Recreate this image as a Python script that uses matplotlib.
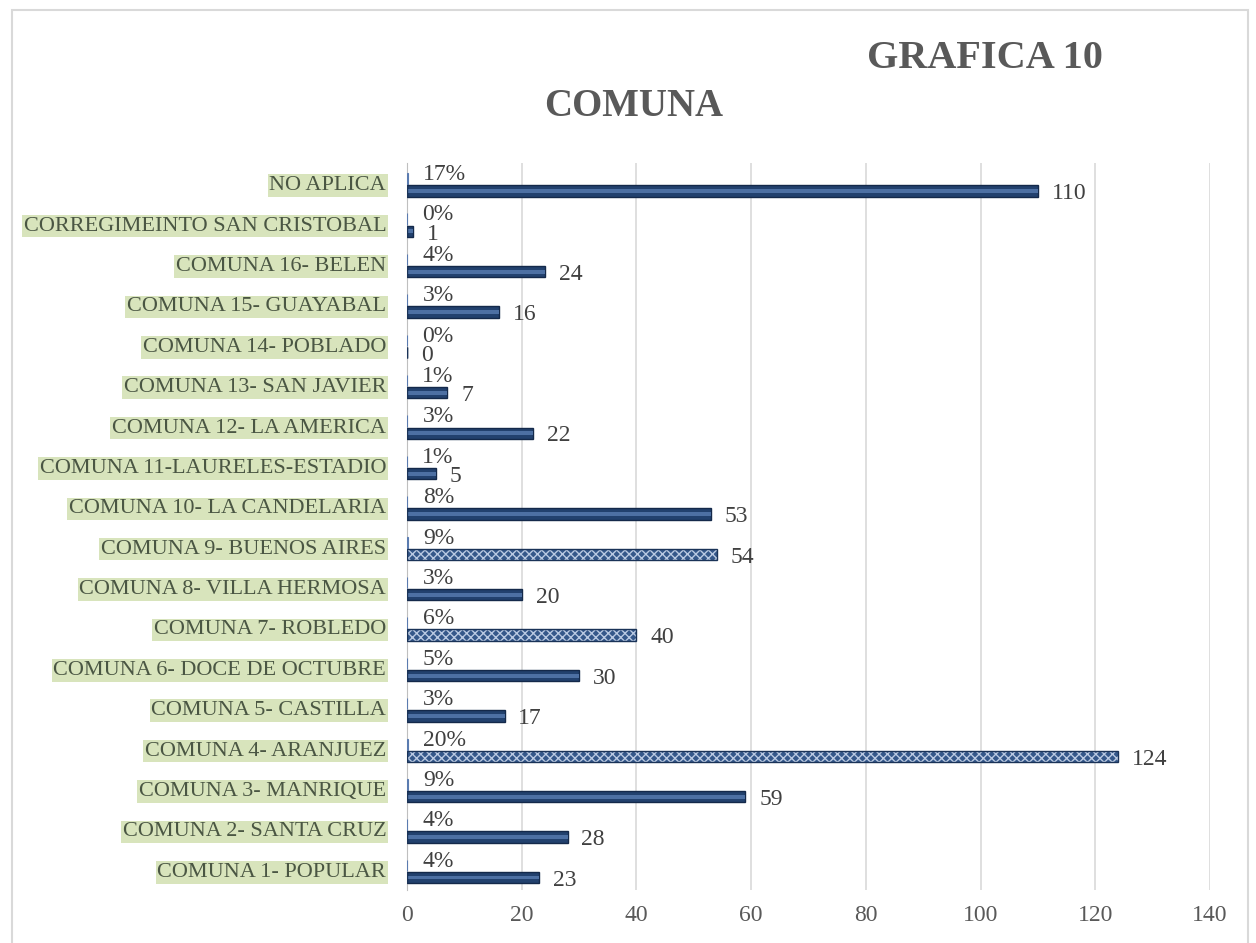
import matplotlib.pyplot as plt
from matplotlib.patches import Rectangle
import numpy as np

# Data, bottom to top as drawn
categories = [
    "COMUNA 1- POPULAR", "COMUNA 2- SANTA CRUZ", "COMUNA 3- MANRIQUE",
    "COMUNA 4- ARANJUEZ", "COMUNA 5- CASTILLA", "COMUNA 6- DOCE DE OCTUBRE",
    "COMUNA 7- ROBLEDO", "COMUNA 8- VILLA HERMOSA", "COMUNA 9- BUENOS AIRES",
    "COMUNA 10- LA CANDELARIA", "COMUNA 11-LAURELES-ESTADIO", "COMUNA 12- LA AMERICA",
    "COMUNA 13- SAN JAVIER", "COMUNA 14- POBLADO", "COMUNA 15- GUAYABAL",
    "COMUNA 16- BELEN", "CORREGIMEINTO SAN CRISTOBAL", "NO APLICA",
]
counts = [23, 28, 59, 124, 17, 30, 40, 20, 54, 53, 5, 22, 7, 0, 16, 24, 1, 110]
percents = [4, 4, 9, 20, 3, 5, 6, 3, 9, 8, 1, 3, 1, 0, 3, 4, 0, 17]
hatched = ["COMUNA 4- ARANJUEZ", "COMUNA 7- ROBLEDO", "COMUNA 9- BUENOS AIRES"]
x_ticks = [0, 20, 40, 60, 80, 100, 120, 140]

font = "Liberation Serif"
grey = "#595959"

fig = plt.figure(figsize=(12.56, 9.43), dpi=100)
ax = fig.add_axes([407 / 1256, 1 - 890 / 943, (1210 - 407) / 1256, (890 - 163) / 943])

y = np.arange(len(categories))
h = 0.28
y_pct = y + 0.11
y_cnt = y - 0.19

# percentage series (fractions, so only a sliver shows)
pct_frac = [p / 100 for p in percents]
ax.barh(y_pct, pct_frac, height=h, color="#9db4d8", edgecolor="#5a7bb0",
        linewidth=0.8, zorder=3)

# count series
plain = [c if cat not in hatched else 0 for c, cat in zip(counts, categories)]
hat = [c if cat in hatched else 0 for c, cat in zip(counts, categories)]
ax.barh(y_cnt, plain, height=h, color="#22416e", edgecolor="#14294a",
        linewidth=1.0, zorder=3)
ax.barh(y_cnt, plain, height=h * 0.35, color="#4d70a3", linewidth=0, zorder=4)
ax.barh(y_cnt, hat, height=h, color="#35588a", edgecolor="#b9c9e2",
        hatch="xxxx", linewidth=0, zorder=3)
ax.barh(y_cnt, hat, height=h, fill=False, edgecolor="#1a3358",
        linewidth=1.0, zorder=4)

for yi, c in zip(y_cnt, counts):
    ax.annotate(str(c), (c, yi), xytext=(10, -2), textcoords="offset points",
                ha="left", va="center", fontsize=17, family=font, color="#404040",
                zorder=6)
for yi, p, f in zip(y_pct, percents, pct_frac):
    ax.annotate(f"{p}%", (f, yi), xytext=(11, 3), textcoords="offset points",
                ha="left", va="center", fontsize=17, family=font, color="#404040",
                zorder=6)

ax.set_xlim(0, 140)
ax.set_ylim(-0.5, len(categories) - 0.5)
ax.set_xticks(x_ticks)
ax.set_xticklabels([str(t) for t in x_ticks], family=font, fontsize=17, color=grey)
ax.set_yticks(y)
ax.set_yticklabels(categories, family=font, fontsize=16, color="#4a5643")
for lab in ax.get_yticklabels():
    lab.set_bbox(dict(facecolor="#d8e4bc", edgecolor="none", boxstyle="square,pad=0.08"))
ax.tick_params(axis="y", length=0, pad=15)
ax.tick_params(axis="x", length=0, pad=11)
ax.grid(axis="x", color="#d9d9d9", linewidth=1.2, zorder=0)
ax.set_axisbelow(True)
for s in ["top", "right", "bottom"]:
    ax.spines[s].set_visible(False)
ax.spines["left"].set_color("#bfbfbf")

fig.text(985 / 1256, 1 - 58 / 943, "GRAFICA 10", ha="center", va="center",
         fontsize=29, fontweight="bold", family=font, color=grey)
fig.text(634 / 1256, 1 - 106 / 943, "COMUNA", ha="center", va="center",
         fontsize=28, fontweight="bold", family=font, color=grey)

fig.patches.append(Rectangle((12 / 1256, -0.05), (1248 - 12) / 1256, 1.05 - 10 / 943,
                             transform=fig.transFigure, fill=False,
                             edgecolor="#d9d9d9", linewidth=1.5))

fig.savefig("out.png", dpi=100)
